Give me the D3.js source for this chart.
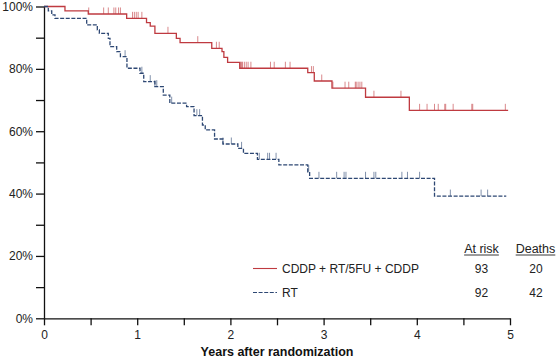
<!DOCTYPE html>
<html>
<head>
<meta charset="utf-8">
<script src="https://cdn.jsdelivr.net/npm/d3@7"></script>
<style>
  body { margin: 0; background: #fff; }
  svg { display: block; font-family: "Liberation Sans", Arial, Helvetica, sans-serif; }
</style>
</head>
<body>
<div id="chart"></div>
<script>
// step times (years) and survival after each step
var redTimes = [0.225, 0.475, 0.887, 1.10, 1.14, 1.19, 1.42, 1.46, 1.80, 1.91, 1.93, 1.97, 2.10, 2.83, 2.90, 3.09, 3.45, 3.92];
var redSurv = [0.986, 0.976, 0.962, 0.948, 0.937, 0.914, 0.898, 0.884, 0.866, 0.855, 0.837, 0.821, 0.802, 0.788, 0.761, 0.738, 0.709, 0.667];
var redEnd = 4.98;
var redCensor = [0.48, 0.64, 0.69, 0.75, 0.77, 0.80, 0.82, 0.95, 0.97, 0.99, 1.01, 1.05, 1.33, 1.65, 1.85, 1.88,
  2.11, 2.12, 2.13, 2.15, 2.17, 2.19, 2.22, 2.43, 2.47, 2.59, 2.64, 2.87, 2.89, 2.98, 3.10, 3.23, 3.27,
  3.34, 3.35, 3.37, 3.39, 3.41, 3.54, 3.83, 4.03, 4.11, 4.19, 4.23, 4.30, 4.31, 4.39, 4.59, 4.60, 4.95];

var blueTimes = [0.046, 0.083, 0.118, 0.458, 0.572, 0.594, 0.69, 0.708, 0.78, 0.82, 0.89, 1.03, 1.07, 1.19, 1.28, 1.35,
  1.53, 1.61, 1.70, 1.73, 1.83, 1.92, 2.08, 2.14, 2.29, 2.52, 2.83, 2.85, 4.19];
var blueSurv = [0.986, 0.973, 0.962, 0.941, 0.925, 0.914, 0.898, 0.871, 0.855, 0.839, 0.802, 0.786, 0.759, 0.743, 0.716, 0.690,
  0.679, 0.650, 0.620, 0.604, 0.575, 0.559, 0.545, 0.529, 0.510, 0.492, 0.470, 0.449, 0.392];
var blueEnd = 4.96;
var blueCensor = [0.87, 1.05, 1.14, 1.19, 1.21, 1.37, 1.64, 1.67, 1.92, 2.01, 2.12, 2.31, 2.40, 2.42, 2.49, 2.84, 2.95,
  3.14, 3.22, 3.24, 3.45, 3.54, 3.56, 3.84, 3.90, 4.03, 4.36, 4.69, 4.76];

var seriesNames = ["CDDP + RT/5FU + CDDP", "RT"];
var atRisk = [93, 92];
var deaths = [20, 42];
var xTicks = [0, 0.5, 1, 1.5, 2, 2.5, 3, 3.5, 4, 4.5, 5];
var yTicks = [0, 0.1, 0.2, 0.3, 0.4, 0.5, 0.6, 0.7, 0.8, 0.9, 1];

var width = 557, height = 359;
var margin = { top: 6.5, right: 47, bottom: 40.7, left: 44 };
var innerWidth = width - margin.left - margin.right;
var innerHeight = height - margin.top - margin.bottom;

var red = "#bf3a40";
var blue = "#2d4773";

var svg = d3.select("#chart").append("svg")
  .attr("width", width)
  .attr("height", height);

var g = svg.append("g")
  .attr("transform", "translate(" + margin.left + "," + margin.top + ")");

var xScale = d3.scaleLinear().domain([0, 5]).range([0, innerWidth]);
var yScale = d3.scaleLinear().domain([0, 1]).range([innerHeight, 0]);

function stepPoints(times, surv, end) {
  var pts = [[0, 1]];
  times.forEach(function(t, i) { pts.push([t, surv[i]]); });
  pts.push([end, surv[surv.length - 1]]);
  return pts;
}

function survAt(times, surv, t) {
  var s = 1;
  for (var i = 0; i < times.length; i++) {
    if (times[i] <= t) s = surv[i];
  }
  return s;
}

var line = d3.line()
  .x(function(d) { return xScale(d[0]); })
  .y(function(d) { return yScale(d[1]); })
  .curve(d3.curveStepAfter);

// axes
var xAxis = d3.axisBottom(xScale)
  .tickValues(xTicks)
  .tickSizeInner(7)
  .tickSizeOuter(0)
  .tickPadding(5)
  .tickFormat(function(d) { return d % 1 === 0 ? d : ""; });

var yAxis = d3.axisLeft(yScale)
  .tickValues(yTicks)
  .tickSizeInner(8)
  .tickSizeOuter(0)
  .tickPadding(3)
  .tickFormat(function(d) {
    var p = Math.round(d * 100);
    return p % 20 === 0 ? p + "%" : "";
  });

g.append("g")
  .attr("class", "x axis")
  .attr("transform", "translate(0," + innerHeight + ")")
  .call(xAxis);

g.append("g")
  .attr("class", "y axis")
  .call(yAxis);

// minor ticks carry no label
g.selectAll(".tick text")
  .filter(function() { return this.textContent === ""; })
  .remove();

g.selectAll(".axis path, .axis line")
  .attr("stroke", "#111")
  .attr("stroke-width", 1.3);
g.selectAll(".axis text")
  .attr("fill", "#222")
  .style("font-size", "12px");

// curves
var series = [
  { name: seriesNames[0], pts: stepPoints(redTimes, redSurv, redEnd), censor: redCensor, times: redTimes, surv: redSurv, color: red, dash: null },
  { name: seriesNames[1], pts: stepPoints(blueTimes, blueSurv, blueEnd), censor: blueCensor, times: blueTimes, surv: blueSurv, color: blue, dash: "4,1.6" }
];

series.forEach(function(s) {
  g.append("g")
    .selectAll(".cens")
    .data(s.censor)
    .enter().append("line")
    .attr("class", "cens")
    .attr("x1", function(t) { return xScale(t); })
    .attr("x2", function(t) { return xScale(t); })
    .attr("y1", function(t) { return yScale(survAt(s.times, s.surv, t)); })
    .attr("y2", function(t) { return yScale(survAt(s.times, s.surv, t)) - 6.5; })
    .attr("stroke", s.color)
    .attr("stroke-opacity", 0.6)
    .attr("stroke-width", 1);

  g.append("path")
    .datum(s.pts)
    .attr("d", line)
    .attr("fill", "none")
    .attr("stroke", s.color)
    .attr("stroke-width", 1.3)
    .attr("stroke-dasharray", s.dash);
});

// legend
var legend = svg.append("g").attr("class", "legend");
var legendY = [268.5, 292.5];

series.forEach(function(s, i) {
  legend.append("line")
    .attr("x1", 253).attr("x2", 277)
    .attr("y1", legendY[i]).attr("y2", legendY[i])
    .attr("stroke", s.color)
    .attr("stroke-width", 1.1)
    .attr("stroke-dasharray", s.dash);
  legend.append("text")
    .attr("x", 282).attr("y", legendY[i] + 4.3)
    .style("font-size", "12px")
    .attr("fill", "#222")
    .text(s.name);
  legend.append("text")
    .attr("x", 481.5).attr("y", legendY[i] + 4.3)
    .attr("text-anchor", "middle")
    .style("font-size", "12px")
    .attr("fill", "#222")
    .text(atRisk[i]);
  legend.append("text")
    .attr("x", 536).attr("y", legendY[i] + 4.3)
    .attr("text-anchor", "middle")
    .style("font-size", "12px")
    .attr("fill", "#222")
    .text(deaths[i]);
});

[["At risk", 481.5], ["Deaths", 535.5]].forEach(function(h) {
  var t = legend.append("text")
    .attr("x", h[1]).attr("y", 253)
    .attr("text-anchor", "middle")
    .style("font-size", "12.5px")
    .attr("fill", "#222")
    .text(h[0]);
  var w = t.node().getComputedTextLength();
  legend.append("line")
    .attr("x1", h[1] - w / 2).attr("x2", h[1] + w / 2)
    .attr("y1", 255).attr("y2", 255)
    .attr("stroke", "#222")
    .attr("stroke-width", 0.9);
});

// x axis title
svg.append("text")
  .attr("x", margin.left + xScale(2.5))
  .attr("y", 355.5)
  .attr("text-anchor", "middle")
  .style("font-size", "12.5px")
  .style("font-weight", "bold")
  .attr("fill", "#111")
  .text("Years after randomization");
</script>
</body>
</html>
